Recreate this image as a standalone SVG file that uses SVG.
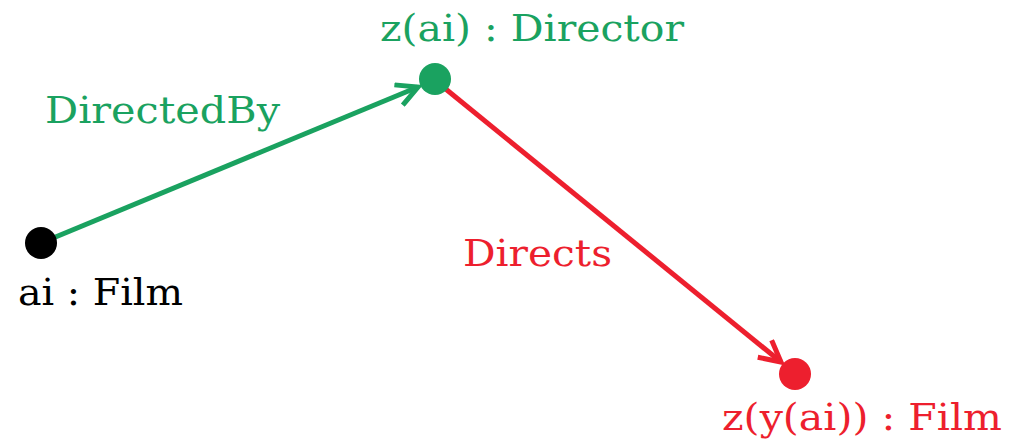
<svg xmlns="http://www.w3.org/2000/svg" width="1013" height="440" viewBox="0 0 1013 440">
<style>
text{font-family:"DejaVu Serif","Liberation Serif",serif;font-size:38px}
.g{fill:#1aa260}.r{fill:#ed1f2e}.k{fill:#000}
.lg{stroke:#1aa260;stroke-width:5;fill:none}
.lr{stroke:#ed1f2e;stroke-width:5;fill:none}
</style>
<defs>
<marker id="ag" viewBox="0 0 26 26" refX="23" refY="13" markerWidth="26" markerHeight="26" markerUnits="userSpaceOnUse" orient="auto">
<path d="M2,2 L23,13 L2,24" fill="none" stroke="#1aa260" stroke-width="5" stroke-linejoin="miter"/>
</marker>
<marker id="ar" viewBox="0 0 26 26" refX="23" refY="13" markerWidth="26" markerHeight="26" markerUnits="userSpaceOnUse" orient="auto">
<path d="M2,2 L23,13 L2,24" fill="none" stroke="#ed1f2e" stroke-width="5" stroke-linejoin="miter"/>
</marker>
</defs>
<g id="connectors">
<line class="lg" x1="41" y1="243" x2="418" y2="87" marker-end="url(#ag)"/>
<line class="lr" x1="442" y1="86" x2="781" y2="362" marker-end="url(#ar)"/>
<text class="g" x="45" y="123" textLength="235" lengthAdjust="spacingAndGlyphs">DirectedBy</text>
<text class="r" x="463" y="266" textLength="149" lengthAdjust="spacingAndGlyphs">Directs</text>
</g>
<g id="node-ai">
<circle cx="41" cy="243" r="16" class="k"/>
<text class="k" x="18" y="305" textLength="165" lengthAdjust="spacingAndGlyphs">ai : Film</text>
</g>
<g id="node-zai">
<circle cx="435" cy="79" r="16" class="g"/>
<text class="g" x="380" y="41" textLength="304" lengthAdjust="spacingAndGlyphs">z(ai) : Director</text>
</g>
<g id="node-zyai">
<circle cx="795" cy="374" r="16" class="r"/>
<text class="r" x="722" y="430" textLength="280" lengthAdjust="spacingAndGlyphs">z(y(ai)) : Film</text>
</g>
</svg>
